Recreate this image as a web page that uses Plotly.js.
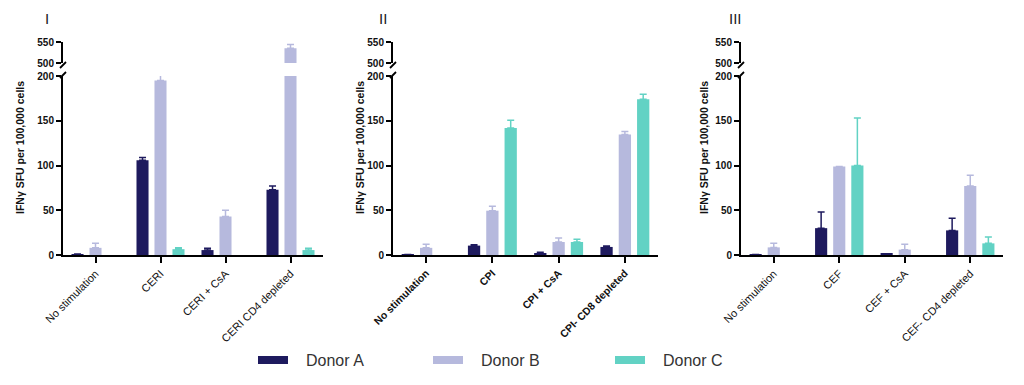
<!DOCTYPE html>
<html>
<head>
<meta charset="utf-8">
<script src="https://cdn.plot.ly/plotly-3.0.1.min.js"></script>
<style>html,body{margin:0;padding:0;background:#fff;}#chart{width:1024px;height:385px;}</style>
</head>
<body>
<div id="chart"></div>
<script>
// ---- data ----
const seriesNames = ['Donor A', 'Donor B', 'Donor C'];
const panelTitles = ['I', 'II', 'III'];
const categories1 = ['No stimulation', 'CERI', 'CERI + CsA', 'CERI CD4 depleted'];
const categories2 = ['No stimulation', 'CPI', 'CPI + CsA', 'CPI- CD8 depleted'];
const categories3 = ['No stimulation', 'CEF', 'CEF + CsA', 'CEF- CD4 depleted'];

const panel1DonorA = [1, 106, 5.5, 73];
const panel1DonorAErr = [0, 3, 2, 4];
const panel1DonorB = [8, 195, 43, 535];
const panel1DonorBErr = [5, 6, 7, 9];
const panel1DonorC = [null, 6.5, null, 5.5];
const panel1DonorCErr = [0, 1.5, 0, 2];

const panel2DonorA = [0.5, 10.5, 2, 9];
const panel2DonorAErr = [0, 1, 1, 1];
const panel2DonorB = [8, 49.5, 14.5, 134.5];
const panel2DonorBErr = [4, 5, 4.5, 3.5];
const panel2DonorC = [null, 142, 14.5, 174];
const panel2DonorCErr = [0, 8.5, 3, 5.5];

const panel3DonorA = [0.5, 30, 1.5, 27.5];
const panel3DonorAErr = [0, 18, 0, 13.5];
const panel3DonorB = [8.5, 99, 6, 77];
const panel3DonorBErr = [4.5, 0, 6, 12];
const panel3DonorC = [null, 100, null, 13];
const panel3DonorCErr = [0, 53, 0, 7];

const yTitle = 'IFNγ SFU per 100,000 cells';
const lowerTicks = [0, 50, 100, 150, 200];
const upperTicks = [500, 550];

// ---- styling / layout ----
const colors = ['#1e1a5e', '#b6b9dd', '#62d2c4'];
const W = 1024, H = 385;
const fx = p => p / W;
const fy = p => 1 - p / H;

const panels = [
  {cats: categories1, vals: [panel1DonorA, panel1DonorB, panel1DonorC], errs: [panel1DonorAErr, panel1DonorBErr, panel1DonorCErr],
   x0: 63, x1: 323, tickBold: false, titleX: 47, yTitleX: 20},
  {cats: categories2, vals: [panel2DonorA, panel2DonorB, panel2DonorC], errs: [panel2DonorAErr, panel2DonorBErr, panel2DonorCErr],
   x0: 393, x1: 658, tickBold: true, titleX: 383, yTitleX: 360},
  {cats: categories3, vals: [panel3DonorA, panel3DonorB, panel3DonorC], errs: [panel3DonorAErr, panel3DonorBErr, panel3DonorCErr],
   x0: 741, x1: 1003, tickBold: false, titleX: 735, yTitleX: 704}
];

const lowerTop = 76, lowerBottom = 255, upperTop = 42, upperBottom = 63;
const tickFont = {family: 'Liberation Sans, Arial, sans-serif', size: 10, color: '#111'};

const data = [];
const layout = {
  width: W, height: H,
  margin: {l: 0, r: 0, t: 0, b: 0},
  paper_bgcolor: '#fff', plot_bgcolor: 'rgba(0,0,0,0)',
  showlegend: false,
  barmode: 'group', bargap: 0.17, bargroupgap: 0.33,
  annotations: [], shapes: []
};

panels.forEach((p, i) => {
  const n = i + 1;
  const xId = 'x' + (n === 1 ? '' : n);
  const yLowId = 'y' + (2 * n - 1 === 1 ? '' : (2 * n - 1));
  const yUpId = 'y' + (2 * n);
  const xKey = 'xaxis' + (n === 1 ? '' : n);
  const yLowKey = 'yaxis' + (2 * n - 1 === 1 ? '' : (2 * n - 1));
  const yUpKey = 'yaxis' + (2 * n);

  [yLowId, yUpId].forEach(yid => {
    seriesNames.forEach((name, s) => {
      data.push({
        type: 'bar', name: name, x: p.cats, y: p.vals[s],
        xaxis: xId, yaxis: yid,
        marker: {color: colors[s], line: {width: 0}},
        error_y: {type: 'data', symmetric: false, array: p.errs[s], arrayminus: p.errs[s].map(() => 0),
                  color: colors[s], thickness: 1.5, width: 3.5},
        hoverinfo: 'x+y+name'
      });
    });
  });

  layout[xKey] = {
    domain: [fx(p.x0), fx(p.x1)], anchor: yLowId,
    type: 'category', categoryorder: 'array', categoryarray: p.cats,
    showline: true, linecolor: '#000', linewidth: 2,
    ticks: 'outside', ticklen: 6, tickwidth: 1.5, tickcolor: '#000',
    tickangle: -45,
    tickfont: {family: 'Liberation Sans, Arial, sans-serif',
               size: p.tickBold ? 10.5 : 11, color: '#111', weight: p.tickBold ? 'bold' : 'normal'},
    showgrid: false, zeroline: false, fixedrange: true
  };
  layout[yLowKey] = {
    domain: [fy(lowerBottom), fy(lowerTop)], anchor: xId,
    range: [0, 200], tickvals: lowerTicks, ticktext: lowerTicks.map(String),
    showline: true, linecolor: '#000', linewidth: 2,
    ticks: 'outside', ticklen: 5, tickwidth: 1.5, tickcolor: '#000',
    tickfont: Object.assign({weight: 'bold'}, tickFont),
    showgrid: false, zeroline: false, fixedrange: true
  };
  layout[yUpKey] = {
    domain: [fy(upperBottom), fy(upperTop)], anchor: xId,
    range: [500, 550], tickvals: upperTicks, ticktext: upperTicks.map(String),
    showline: true, linecolor: '#000', linewidth: 2,
    ticks: 'outside', ticklen: 5, tickwidth: 1.5, tickcolor: '#000',
    tickfont: Object.assign({weight: 'bold'}, tickFont),
    showgrid: false, zeroline: false, fixedrange: true
  };

  // panel label
  layout.annotations.push({
    text: panelTitles[i], xref: 'paper', yref: 'paper',
    x: fx(p.titleX), y: fy(18), xanchor: 'center', yanchor: 'middle', showarrow: false,
    font: {family: 'Liberation Sans, Arial, sans-serif', size: 15, color: '#222'}
  });
  // y-axis title spanning both segments
  layout.annotations.push({
    text: yTitle, xref: 'paper', yref: 'paper', textangle: -90,
    x: fx(p.yTitleX), y: fy(148), xanchor: 'center', yanchor: 'middle', showarrow: false,
    font: {family: 'Liberation Sans, Arial, sans-serif', size: 10.5, color: '#111', weight: 'bold'}
  });
  // axis-break marks
  const ax = p.x0;
  layout.shapes.push({type: 'line', xref: 'paper', yref: 'paper',
    x0: fx(ax - 3), y0: fy(68), x1: fx(ax + 3), y1: fy(62), line: {color: '#000', width: 1.8}});
  layout.shapes.push({type: 'line', xref: 'paper', yref: 'paper',
    x0: fx(ax - 3), y0: fy(78), x1: fx(ax + 3), y1: fy(72), line: {color: '#000', width: 1.8}});
});

// legend drawn as swatches + labels
const legendX = [258, 433, 615];
seriesNames.forEach((name, s) => {
  layout.shapes.push({type: 'rect', xref: 'paper', yref: 'paper',
    x0: fx(legendX[s]), x1: fx(legendX[s] + 30), y0: fy(364), y1: fy(356),
    fillcolor: colors[s], line: {width: 0}});
  layout.annotations.push({
    text: name, xref: 'paper', yref: 'paper', x: fx(legendX[s] + 46), y: fy(360),
    xanchor: 'left', yanchor: 'middle', showarrow: false,
    font: {family: 'Liberation Sans, Arial, sans-serif', size: 16, color: '#333'}
  });
});

Plotly.newPlot('chart', data, layout, {displayModeBar: false});
</script>
</body>
</html>
